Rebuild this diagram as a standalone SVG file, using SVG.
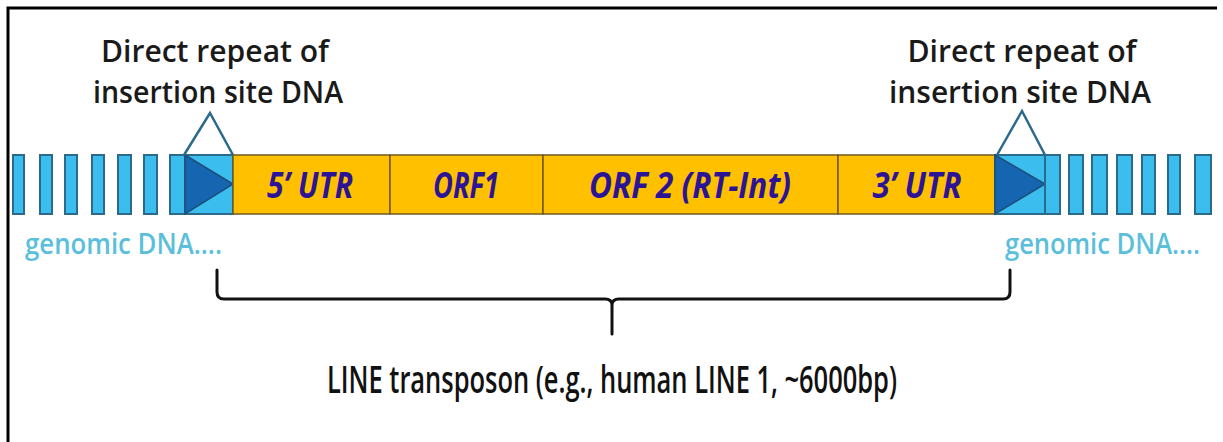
<svg xmlns="http://www.w3.org/2000/svg" width="1223" height="442" viewBox="0 0 1223 442">
<style>
.frame{stroke:#000;stroke-width:3;fill:none}
.g{fill:#3bbdee;stroke:#2b6a8a;stroke-width:2}
.tri{fill:#1565b0;stroke:#1d4f7a;stroke-width:1.5}
.cap{fill:none;stroke:#2b6a8a;stroke-width:2.5;stroke-linejoin:miter}
.o{fill:#ffc000;stroke:#6e5a22;stroke-width:1.5}
.lbl{font-family:"Open Sans","Liberation Sans",sans-serif;font-weight:700;font-style:italic;font-size:35px;fill:#2c1496;text-anchor:middle}
.hdr{font-family:"Open Sans","Liberation Sans",sans-serif;font-weight:600;font-size:30px;fill:#1a1a1a;text-anchor:middle}
.gen{font-family:"Open Sans","Liberation Sans",sans-serif;font-weight:600;font-size:28px;fill:#5bbfdc;text-anchor:start}
.br{fill:none;stroke:#111;stroke-width:3;stroke-linecap:round}
.bot{font-family:"Open Sans","Liberation Sans",sans-serif;font-weight:600;font-size:38px;fill:#111;text-anchor:middle}
</style>
<rect width="1223" height="442" fill="#fff"/>
<path class="frame" d="M8,442 L8,8 L1217,8"/>

<g id="genomic-left">
<rect class="g" x="13" y="155" width="11" height="59"/>
<rect class="g" x="40" y="155" width="12" height="59"/>
<rect class="g" x="65" y="155" width="12" height="59"/>
<rect class="g" x="92" y="155" width="12" height="59"/>
<rect class="g" x="118" y="155" width="13" height="59"/>
<rect class="g" x="144" y="155" width="13" height="59"/>
<rect class="g" x="170" y="155" width="15" height="59"/>
<text class="gen" x="25" y="254" textLength="197" lengthAdjust="spacingAndGlyphs">genomic DNA....</text>
</g>

<g id="repeat-left">
<rect class="g" x="185" y="155" width="48" height="59"/>
<polygon class="tri" points="185,155 233,184 185,214"/>
<polyline class="cap" points="184,155 210,113 233,155"/>
<text class="hdr" x="215" y="62" textLength="228" lengthAdjust="spacingAndGlyphs">Direct repeat of</text>
<text class="hdr" x="218" y="103" textLength="250" lengthAdjust="spacingAndGlyphs">insertion site DNA</text>
</g>

<g id="utr5">
<rect class="o" x="233" y="155" width="157" height="59"/>
<text class="lbl" x="310" y="198" textLength="86" lengthAdjust="spacingAndGlyphs">5’ UTR</text>
</g>
<g id="orf1">
<rect class="o" x="390" y="155" width="153" height="59"/>
<text class="lbl" x="466" y="198" textLength="66" lengthAdjust="spacingAndGlyphs">ORF1</text>
</g>
<g id="orf2">
<rect class="o" x="543" y="155" width="295" height="59"/>
<text class="lbl" x="690" y="198" textLength="202" lengthAdjust="spacingAndGlyphs">ORF 2 (RT-Int)</text>
</g>
<g id="utr3">
<rect class="o" x="838" y="155" width="157" height="59"/>
<text class="lbl" x="917" y="198" textLength="89" lengthAdjust="spacingAndGlyphs">3’ UTR</text>
</g>

<g id="repeat-right">
<rect class="g" x="995" y="155" width="50" height="59"/>
<polygon class="tri" points="995,155 1045,184 995,214"/>
<polyline class="cap" points="997,155 1022,111 1045,155"/>
<text class="hdr" x="1022" y="62" textLength="229" lengthAdjust="spacingAndGlyphs">Direct repeat of</text>
<text class="hdr" x="1020" y="103" textLength="262" lengthAdjust="spacingAndGlyphs">insertion site DNA</text>
</g>

<g id="genomic-right">
<rect class="g" x="1045" y="155" width="15" height="59"/>
<rect class="g" x="1069" y="155" width="14" height="59"/>
<rect class="g" x="1092" y="155" width="15" height="59"/>
<rect class="g" x="1117" y="155" width="15" height="59"/>
<rect class="g" x="1142" y="155" width="13" height="59"/>
<rect class="g" x="1168" y="155" width="12" height="59"/>
<rect class="g" x="1195" y="155" width="16" height="59"/>
<text class="gen" x="1005" y="254" textLength="195" lengthAdjust="spacingAndGlyphs">genomic DNA....</text>
</g>

<g id="connectors">
<path class="br" d="M217,270 L217,292 Q217,299 224,299 L605,299 Q612,299 612,305 L612,334 M612,305 Q612,299 619,299 L1003,299 Q1010,299 1010,292 L1010,270"/>
</g>

<g id="line-label">
<text class="bot" x="612" y="393" textLength="570" lengthAdjust="spacingAndGlyphs">LINE transposon (e.g., human LINE 1, ~6000bp)</text>
</g>
</svg>
